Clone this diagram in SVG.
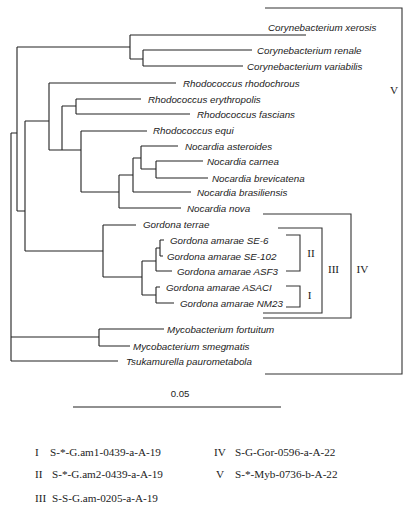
<svg xmlns="http://www.w3.org/2000/svg" width="413" height="511" viewBox="0 0 413 511">
<style>
.t{font-family:"Liberation Sans",Arial,sans-serif;font-style:italic;font-size:9.8px;fill:#222}
.r{font-family:"Liberation Serif","Times New Roman",serif;font-size:11.2px;fill:#222}
.s{font-family:"Liberation Sans",Arial,sans-serif;font-size:9.6px;fill:#222}
.ln{fill:none;stroke:#222;stroke-width:1.1}
.br{fill:none;stroke:#333;stroke-width:1.1}
</style>
<rect width="413" height="511" fill="#fff"/>
<g id="connectors" class="ln">
<path d="M11,133V361M11,133H17M17,47V211M17,47H130M130,35V59M130,35H306M130,59H143M143,50V66M143,50H252M143,66H243"/>
<path d="M17,211H25M25,121V251M25,121H49M49,83V150M49,83H176M49,150H81M62,106V150M62,106H76M76,99V114M76,99H141M76,114H190"/>
<path d="M81,131V192M81,131H147M81,192H119M119,175V208M119,208H181M119,175H133M133,158V192M133,192H191M133,158H141M141,146V169M141,146H178M141,169H156M156,161V178M156,161H203M156,178H208"/>
<path d="M25,251H103M103,225V277M103,225H136M103,277H142M142,261V295M142,261H156M156,248V271M156,248H160M160,240V256M160,240H164M160,256H163M156,271H172M142,295H156M156,287V303M156,287H160M156,303H174"/>
<path d="M11,337H99M99,329V346M99,329H164M99,346H130M11,361H118"/>
</g>
<g id="xerosis"><text class="t" x="268" y="30.5">Corynebacterium xerosis</text></g>
<g id="renale"><text class="t" x="257" y="53.5">Corynebacterium renale</text></g>
<g id="variabilis"><text class="t" x="247" y="69.5">Corynebacterium variabilis</text></g>
<g id="rhodochrous"><text class="t" x="183" y="86.5">Rhodococcus rhodochrous</text></g>
<g id="erythropolis"><text class="t" x="148" y="102.5">Rhodococcus erythropolis</text></g>
<g id="fascians"><text class="t" x="197" y="117.5">Rhodococcus fascians</text></g>
<g id="equi"><text class="t" x="153" y="134">Rhodococcus equi</text></g>
<g id="asteroides"><text class="t" x="185" y="149.5">Nocardia asteroides</text></g>
<g id="carnea"><text class="t" x="207" y="164.5">Nocardia carnea</text></g>
<g id="brevicatena"><text class="t" x="212" y="181.5">Nocardia brevicatena</text></g>
<g id="brasiliensis"><text class="t" x="197" y="195.5">Nocardia brasiliensis</text></g>
<g id="nova"><text class="t" x="187" y="211.5">Nocardia nova</text></g>
<g id="terrae"><text class="t" x="143" y="228">Gordona terrae</text></g>
<g id="se6"><text class="t" x="170" y="243.5">Gordona amarae SE-6</text></g>
<g id="se102"><text class="t" x="167" y="259.5">Gordona amarae SE-102</text></g>
<g id="asf3"><text class="t" x="177" y="274.5">Gordona amarae ASF3</text></g>
<g id="asaci"><text class="t" x="166" y="290.5">Gordona amarae ASACI</text></g>
<g id="nm23"><text class="t" x="180" y="306.5">Gordona amarae NM23</text></g>
<g id="fortuitum"><text class="t" x="167" y="332.5">Mycobacterium fortuitum</text></g>
<g id="smegmatis"><text class="t" x="133" y="349.5">Mycobacterium smegmatis</text></g>
<g id="tsukamurella"><text class="t" x="126" y="364.5">Tsukamurella paurometabola</text></g>
<g id="bracket-V"><path class="br" d="M265,8H402V374H265"/><text class="r" x="394" y="94" text-anchor="middle">V</text></g>
<g id="bracket-IV"><path class="br" d="M263,214H351V318H263"/><text class="r" x="362.5" y="273" text-anchor="middle">IV</text></g>
<g id="bracket-III"><path class="br" d="M278,228H322V313H263"/><text class="r" x="333.5" y="273" text-anchor="middle">III</text></g>
<g id="bracket-II"><path class="br" d="M286,235H300V271H286"/><text class="r" x="311" y="257" text-anchor="middle">II</text></g>
<g id="bracket-I"><path class="br" d="M286,286H300V307H286"/><text class="r" x="309.5" y="299" text-anchor="middle">I</text></g>
<g id="scale"><path class="ln" d="M73,407H281"/><text class="s" x="180" y="396.5" text-anchor="middle">0.05</text></g>
<g id="legend">
<text class="r" x="35" y="456">I</text><text class="r" x="50" y="456">S-*-G.am1-0439-a-A-19</text>
<text class="r" x="35" y="478">II</text><text class="r" x="52" y="478">S-*-G.am2-0439-a-A-19</text>
<text class="r" x="35" y="502">III</text><text class="r" x="52" y="502">S-S-G.am-0205-a-A-19</text>
<text class="r" x="214" y="456">IV</text><text class="r" x="235" y="456">S-G-Gor-0596-a-A-22</text>
<text class="r" x="216" y="478">V</text><text class="r" x="235" y="478">S-*-Myb-0736-b-A-22</text>
</g>
</svg>
